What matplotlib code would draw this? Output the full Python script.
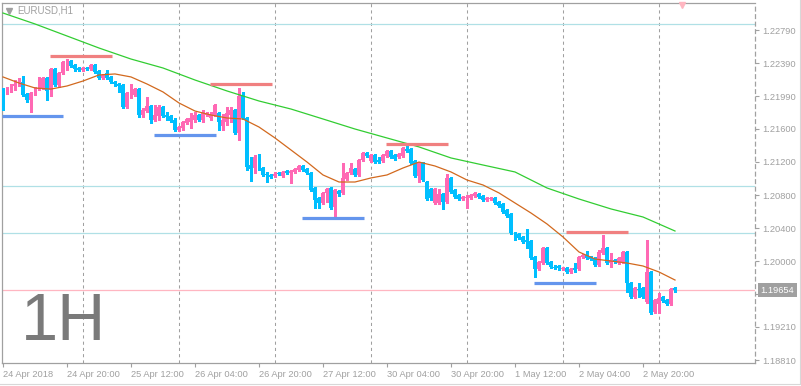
import matplotlib
matplotlib.use('Agg')
import matplotlib.pyplot as plt
from matplotlib.lines import Line2D
import numpy as np

plt.rcParams['font.family'] = ['Liberation Sans', 'DejaVu Sans']

# EURUSD H1 candles, 24 Apr 2018 04:00 .. 3 May 2018 04:00
opens = [
    1.22078, 1.22031, 1.22067, 1.22115, 1.22127, 1.22163, 1.22019, 1.21946, 1.22019, 1.22078,
    1.22091, 1.22212, 1.22067, 1.22319, 1.22127, 1.22272, 1.22392, 1.22416, 1.22368, 1.22332,
    1.22308, 1.22332, 1.22319, 1.22368, 1.22296, 1.22212, 1.22272, 1.22224, 1.22163, 1.22139,
    1.22127, 1.21862, 1.22007, 1.22007, 1.22078, 1.21765, 1.21813, 1.21874, 1.21705, 1.21753,
    1.21862, 1.21765, 1.21753, 1.21705, 1.21584, 1.21608, 1.21669, 1.21681, 1.21705, 1.21765,
    1.21705, 1.21765, 1.21729, 1.21765, 1.21789, 1.21632, 1.21681, 1.21765, 1.21825, 1.21548,
    1.21995, 1.21729, 1.21162, 1.21126, 1.21247, 1.21126, 1.21054, 1.21042, 1.21030, 1.21066,
    1.21030, 1.21090, 1.21066, 1.21078, 1.21102, 1.21150, 1.21114, 1.21066, 1.20885, 1.20764,
    1.20704, 1.20825, 1.20885, 1.20656, 1.20849, 1.20825, 1.20993, 1.21066, 1.21114, 1.21042,
    1.21222, 1.21307, 1.21210, 1.21283, 1.21222, 1.21210, 1.21271, 1.21331, 1.21283, 1.21259,
    1.21271, 1.21355, 1.21355, 1.21210, 1.21030, 1.21186, 1.20957, 1.20872, 1.20704, 1.20704,
    1.20813, 1.20716, 1.21006, 1.20861, 1.20801, 1.20752, 1.20764, 1.20764, 1.20788, 1.20813,
    1.20788, 1.20740, 1.20752, 1.20764, 1.20716, 1.20692, 1.20619, 1.20571, 1.20342, 1.20330,
    1.20294, 1.20258, 1.20246, 1.20053, 1.19908, 1.19980, 1.20162, 1.19992, 1.19932, 1.19944,
    1.19908, 1.19920, 1.19872, 1.19920, 1.19908, 1.20053, 1.20077, 1.20053, 1.20041, 1.19956,
    1.20101, 1.20162, 1.19980, 1.20016, 1.19980, 1.19992, 1.20113, 1.19739, 1.19571, 1.19667,
    1.19679, 1.19510, 1.19872, 1.19389, 1.19486, 1.19571, 1.19534, 1.19486, 1.19679,
]
highs = [
    1.22091, 1.22103, 1.22139, 1.22187, 1.22212, 1.22236, 1.22031, 1.22043, 1.22103, 1.22224,
    1.22224, 1.22224, 1.22332, 1.22332, 1.22284, 1.22416, 1.22440, 1.22428, 1.22380, 1.22344,
    1.22344, 1.22344, 1.22380, 1.22380, 1.22308, 1.22260, 1.22308, 1.22236, 1.22175, 1.22151,
    1.22139, 1.22043, 1.22139, 1.22091, 1.22091, 1.21850, 1.21983, 1.21886, 1.21886, 1.21886,
    1.21874, 1.21801, 1.21765, 1.21729, 1.21632, 1.21693, 1.21729, 1.21789, 1.21801, 1.21777,
    1.21825, 1.21801, 1.21801, 1.21898, 1.21801, 1.21777, 1.21862, 1.21862, 1.21837, 1.22091,
    1.22043, 1.21741, 1.21259, 1.21283, 1.21295, 1.21138, 1.21078, 1.21054, 1.21078, 1.21078,
    1.21090, 1.21102, 1.21102, 1.21126, 1.21162, 1.21162, 1.21126, 1.21078, 1.20897, 1.20776,
    1.20837, 1.20885, 1.20897, 1.20872, 1.20861, 1.21186, 1.21078, 1.21186, 1.21126, 1.21235,
    1.21319, 1.21319, 1.21295, 1.21295, 1.21259, 1.21295, 1.21343, 1.21343, 1.21295, 1.21307,
    1.21380, 1.21404, 1.21368, 1.21222, 1.21198, 1.21198, 1.20969, 1.20885, 1.20885, 1.20872,
    1.20825, 1.21054, 1.21018, 1.20872, 1.20813, 1.20788, 1.20801, 1.20813, 1.20837, 1.20825,
    1.20801, 1.20776, 1.20776, 1.20776, 1.20728, 1.20704, 1.20632, 1.20583, 1.20354, 1.20342,
    1.20306, 1.20390, 1.20258, 1.20065, 1.20004, 1.20173, 1.20173, 1.20004, 1.19956, 1.19956,
    1.19932, 1.19932, 1.19920, 1.19980, 1.20065, 1.20089, 1.20125, 1.20065, 1.20053, 1.20137,
    1.20318, 1.20173, 1.20101, 1.20028, 1.20053, 1.20125, 1.20125, 1.19751, 1.19691, 1.19739,
    1.19691, 1.20258, 1.19884, 1.19546, 1.19619, 1.19583, 1.19546, 1.19679, 1.19691,
]
lows = [
    1.21825, 1.22019, 1.22043, 1.22067, 1.22115, 1.21995, 1.21922, 1.21801, 1.22007, 1.22067,
    1.22078, 1.21946, 1.21995, 1.22115, 1.22103, 1.22260, 1.22308, 1.22344, 1.22296, 1.22296,
    1.22296, 1.22308, 1.22308, 1.22272, 1.22200, 1.22200, 1.22200, 1.22151, 1.22115, 1.22043,
    1.21850, 1.21850, 1.21970, 1.21995, 1.21741, 1.21741, 1.21801, 1.21669, 1.21693, 1.21705,
    1.21741, 1.21705, 1.21681, 1.21572, 1.21572, 1.21584, 1.21657, 1.21608, 1.21681, 1.21693,
    1.21681, 1.21753, 1.21705, 1.21753, 1.21584, 1.21584, 1.21644, 1.21681, 1.21536, 1.21464,
    1.21717, 1.21102, 1.20969, 1.21066, 1.21102, 1.21030, 1.20957, 1.21006, 1.21018, 1.21042,
    1.21018, 1.21054, 1.20945, 1.21066, 1.21090, 1.21090, 1.21054, 1.20849, 1.20644, 1.20644,
    1.20692, 1.20716, 1.20632, 1.20535, 1.20788, 1.20813, 1.20981, 1.21054, 1.21030, 1.21030,
    1.21210, 1.21259, 1.21198, 1.21186, 1.21186, 1.21198, 1.21259, 1.21247, 1.21222, 1.21247,
    1.21259, 1.21319, 1.21174, 1.21018, 1.20957, 1.20969, 1.20740, 1.20740, 1.20692, 1.20692,
    1.20632, 1.20704, 1.20825, 1.20764, 1.20740, 1.20740, 1.20644, 1.20752, 1.20776, 1.20764,
    1.20728, 1.20728, 1.20740, 1.20692, 1.20656, 1.20583, 1.20535, 1.20330, 1.20258, 1.20270,
    1.20222, 1.20162, 1.20028, 1.19812, 1.19896, 1.19968, 1.19968, 1.19920, 1.19908, 1.19896,
    1.19896, 1.19860, 1.19860, 1.19872, 1.19896, 1.20041, 1.20028, 1.20016, 1.19944, 1.19944,
    1.20089, 1.19968, 1.19932, 1.19980, 1.19968, 1.19980, 1.19631, 1.19558, 1.19558, 1.19571,
    1.19558, 1.19498, 1.19365, 1.19377, 1.19377, 1.19510, 1.19474, 1.19474, 1.19631,
]
closes = [
    1.22031, 1.22078, 1.22127, 1.22139, 1.22175, 1.22007, 1.21946, 1.22031, 1.22078, 1.22091,
    1.22212, 1.22055, 1.22319, 1.22127, 1.22272, 1.22404, 1.22416, 1.22356, 1.22319, 1.22308,
    1.22332, 1.22319, 1.22368, 1.22284, 1.22212, 1.22248, 1.22212, 1.22163, 1.22139, 1.22115,
    1.21862, 1.22031, 1.22043, 1.22078, 1.21765, 1.21825, 1.21874, 1.21705, 1.21765, 1.21862,
    1.21753, 1.21741, 1.21693, 1.21584, 1.21620, 1.21681, 1.21717, 1.21729, 1.21765, 1.21705,
    1.21789, 1.21789, 1.21777, 1.21886, 1.21681, 1.21705, 1.21789, 1.21825, 1.21548, 1.21995,
    1.21729, 1.21138, 1.21114, 1.21259, 1.21126, 1.21042, 1.21042, 1.21018, 1.21054, 1.21054,
    1.21078, 1.21066, 1.21090, 1.21114, 1.21150, 1.21102, 1.21066, 1.20861, 1.20740, 1.20704,
    1.20825, 1.20872, 1.20644, 1.20861, 1.20813, 1.21006, 1.21066, 1.21126, 1.21042, 1.21222,
    1.21307, 1.21271, 1.21283, 1.21198, 1.21198, 1.21283, 1.21331, 1.21259, 1.21235, 1.21295,
    1.21368, 1.21331, 1.21186, 1.21030, 1.21186, 1.20981, 1.20752, 1.20764, 1.20872, 1.20813,
    1.20716, 1.21006, 1.20837, 1.20776, 1.20752, 1.20776, 1.20776, 1.20801, 1.20825, 1.20776,
    1.20740, 1.20764, 1.20764, 1.20704, 1.20668, 1.20595, 1.20547, 1.20342, 1.20318, 1.20282,
    1.20234, 1.20234, 1.20041, 1.19908, 1.19992, 1.20162, 1.19980, 1.19932, 1.19920, 1.19920,
    1.19920, 1.19872, 1.19908, 1.19896, 1.20053, 1.20077, 1.20041, 1.20028, 1.19956, 1.20113,
    1.20162, 1.19980, 1.20016, 1.19992, 1.20041, 1.20113, 1.19739, 1.19571, 1.19679, 1.19655,
    1.19571, 1.19872, 1.19377, 1.19534, 1.19558, 1.19522, 1.19486, 1.19667, 1.19654,
]

ma_fast_step = 4
ma_fast = [
    1.22224, 1.22151, 1.22091, 1.22078, 1.22115, 1.22175, 1.22248, 1.22260, 1.22224, 1.22139,
    1.22043, 1.21910, 1.21813, 1.21765, 1.21729, 1.21717, 1.21620, 1.21488, 1.21343, 1.21198,
    1.21042, 1.20957, 1.20957, 1.21006, 1.21042, 1.21126, 1.21198, 1.21150, 1.21078, 1.20981,
    1.20921, 1.20825, 1.20704, 1.20583, 1.20451, 1.20294, 1.20113, 1.20028, 1.20004, 1.19980,
    1.19944, 1.19872, 1.19775,
]
ma_slow_step = 8
ma_slow = [
    1.22995, 1.22863, 1.22718, 1.22573, 1.22440, 1.22332, 1.22187, 1.22055, 1.21934, 1.21837,
    1.21717, 1.21596, 1.21488, 1.21380, 1.21247, 1.21162, 1.21078, 1.20885, 1.20752, 1.20632,
    1.20535, 1.20366,
]

# horizontal levels
full_levels = [1.22863, 1.20909, 1.20342]
last_price = 1.19654
# (start bar, end bar, price)
resistance = [(11.75, 27.25, 1.22477), (51.75, 67.25, 1.22139),
              (95.75, 111.25, 1.21416), (140.75, 156.25, 1.20354)]
support = [(-0.25, 15.0, 1.21753), (37.75, 53.25, 1.21524),
           (74.75, 90.25, 1.20523), (132.75, 148.25, 1.19739)]

day_breaks = [20, 44, 68, 92, 116, 140, 164]
xtick_pos = [0, 16, 32, 48, 64, 80, 96, 112, 128, 144, 160]
xtick_labels = ['24 Apr 2018', '24 Apr 20:00', '25 Apr 12:00', '26 Apr 04:00',
                '26 Apr 20:00', '27 Apr 12:00', '30 Apr 04:00', '30 Apr 20:00',
                '1 May 12:00', '2 May 04:00', '2 May 20:00']
ytick_vals = [1.22790, 1.22390, 1.21990, 1.21600, 1.21200, 1.20800,
              1.20400, 1.20000, 1.19610, 1.19210, 1.18810]

BULL = '#ff69b4'
BEAR = '#00bfff'
GRID = '#a0a0a0'
TXT = '#a0a0a0'

W, H = 801, 386
fig = plt.figure(figsize=(W / 100, H / 100), dpi=100)
ax = fig.add_axes([2 / W, 23 / H, 753 / W, 360 / H])
ax.set_xlim(-0.25, 188.0)
ax.set_ylim(1.187742, 1.231158)

for d in day_breaks:
    ax.axvline(d, color=GRID, lw=0.75, dashes=(3, 3), zorder=1)
for lv in full_levels:
    ax.axhline(lv, color='#b0e0e6', lw=0.9, zorder=1)
ax.axhline(last_price, color='#ffb6c1', lw=0.9, zorder=1)

o = np.array(opens)
h = np.array(highs)
l = np.array(lows)
c = np.array(closes)
x = np.arange(len(c))
cols = np.where(c < o, BEAR, BULL)
px = 0.00012
ax.vlines(x, l, h, colors=cols, lw=0.75, zorder=3, antialiased=False)
ax.bar(x, np.maximum(np.abs(c - o), px), bottom=np.minimum(o, c), width=0.75,
       color=cols, linewidth=0, zorder=4, antialiased=False)

ax.plot(np.arange(len(ma_fast)) * ma_fast_step, ma_fast, color='#d2691e', lw=0.9, zorder=5)
ax.plot(np.arange(len(ma_slow)) * ma_slow_step, ma_slow, color='#32cd32', lw=0.9, zorder=5)

for a, b, p in resistance:
    ax.plot([a, b], [p, p], color='#f08080', lw=2.3, solid_capstyle='butt', zorder=6)
for a, b, p in support:
    ax.plot([a, b], [p, p], color='#6495ed', lw=2.3, solid_capstyle='butt', zorder=6)

# frame
for s in ['top', 'left', 'bottom', 'right']:
    ax.spines[s].set_color(GRID)
    ax.spines[s].set_linewidth(0.9)
ax.spines['right'].set_linestyle((0, (3, 3)))

ax.yaxis.tick_right()
ax.set_yticks(ytick_vals)
ax.set_yticklabels(['%.5f' % v for v in ytick_vals])
ax.tick_params(axis='y', direction='out', length=3, width=0.8, colors=GRID,
               labelcolor=TXT, labelsize=6.7, pad=2)
ax.set_xticks(xtick_pos)
ax.set_xticklabels(xtick_labels)
ax.tick_params(axis='x', direction='out', length=3, width=0.8, colors=GRID,
               labelcolor=TXT, labelsize=6.7, pad=2)
for lbl in ax.get_xticklabels():
    lbl.set_ha('left')

# current price tag
ax.text(1.0075, last_price, '%.5f' % last_price, transform=ax.get_yaxis_transform(),
        ha='left', va='center', fontsize=6.7, color='white', zorder=20, clip_on=False,
        bbox=dict(boxstyle='square,pad=0.25', facecolor='#a0a0a0', edgecolor='none'))

# title, watermark, markers
fig.text(17 / W, 1 - 10.5 / H, 'EURUSD,H1', fontsize=7, color=TXT, va='center', ha='left')
fig.add_artist(Line2D([9 / W], [1 - 10.5 / H], marker='v', markersize=4,
                      color='#a0a0a0', linestyle='none'))
fig.add_artist(Line2D([682 / W], [1 - 5 / H], marker='v', markersize=5,
                      color='#ffb6c1', linestyle='none'))
fig.text(21 / W, 1 - 340 / H, '1H', fontsize=48, color='#7a7a7a', ha='left', va='baseline')

# outer window border
fig.add_artist(Line2D([0, 800 / W], [1 - 383.5 / H] * 2, color='#d8d8d8', lw=0.8))
fig.add_artist(Line2D([799.5 / W] * 2, [1 - 383.5 / H, 1], color='#d8d8d8', lw=0.8))

fig.savefig('out.png', dpi=100, facecolor='white')
